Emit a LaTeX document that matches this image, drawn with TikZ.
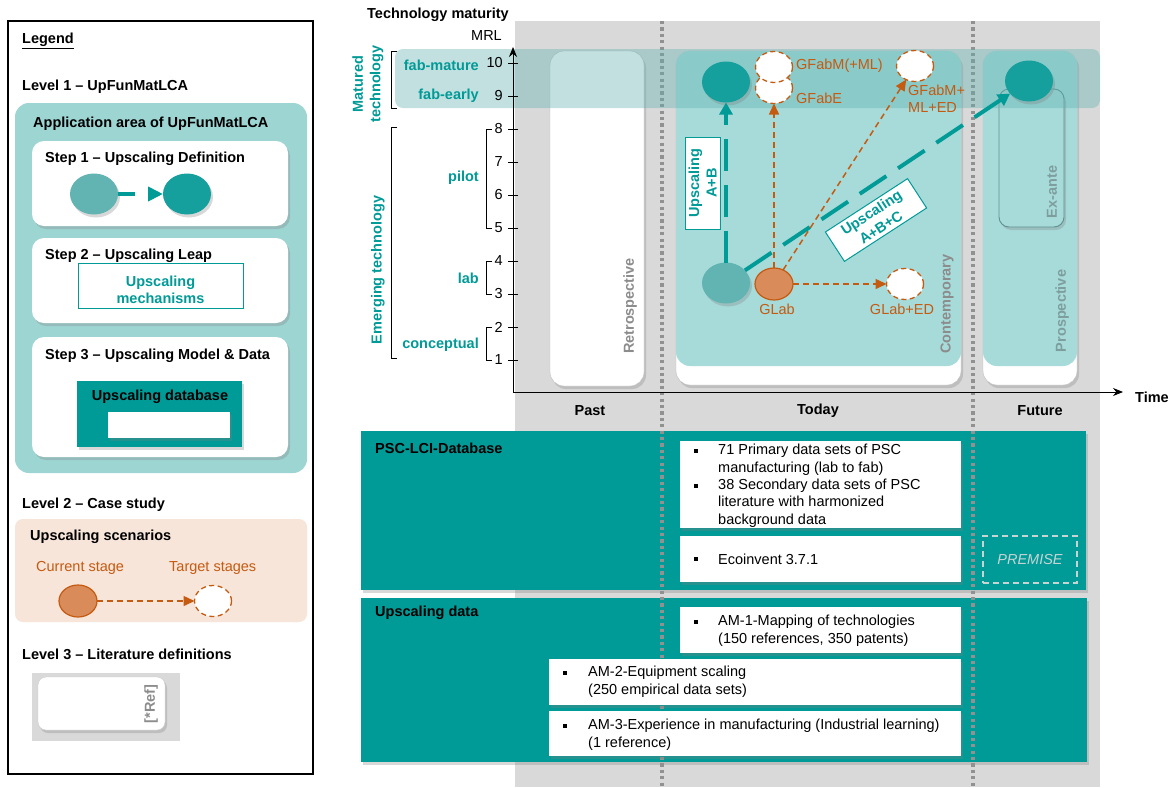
\documentclass[tikz,border=0pt]{standalone}
\usepackage{fontspec}
\setmainfont{Liberation Sans}
\usetikzlibrary{arrows.meta,shadows,shapes.geometric,fit}
\definecolor{tealD}{HTML}{009A97}
\definecolor{tealL}{HTML}{9DD5D3}
\definecolor{tealC}{HTML}{A6DBDA}
\definecolor{tealE}{HTML}{62B4B2}
\definecolor{tealS}{HTML}{15A09D}
\definecolor{orgT}{HTML}{C55A11}
\definecolor{orgF}{HTML}{D98B5A}
\definecolor{peach}{HTML}{F7E5D9}
\definecolor{bgG}{HTML}{D9D9D9}
\definecolor{dotG}{HTML}{919191}
\definecolor{rotG}{HTML}{8C8C8C}
\definecolor{rotT}{HTML}{7E9E9E}
\definecolor{exaB}{HTML}{5F8F8F}
\definecolor{bandC}{HTML}{5FAFAF}
\definecolor{premC}{HTML}{C8D4D4}
\tikzset{
 shd/.style={drop shadow={opacity=0.3,shadow xshift=2pt,shadow yshift=-3pt}},
 bx/.style={inner sep=0pt,outer sep=0pt},
 wbox/.style={bx,fill=white,rounded corners=12pt,shd},
 lbl/.style={inner sep=0pt,anchor=west},
 bld/.style={lbl,font=\bfseries},
 tealtxt/.style={text=tealD,font=\bfseries,inner sep=0pt},
 ell/.style={ellipse,inner sep=0pt,outer sep=0pt},
 matE/.style={ell,fill=tealS,minimum width=48pt,minimum height=41pt,shd},
 curE/.style={ell,fill=tealE,minimum width=48pt,minimum height=41pt,shd},
 orgE/.style={ell,fill=orgF,draw=orgT,line width=1.2pt,minimum width=38pt,minimum height=32pt},
 tgtE/.style={ell,fill=white,draw=orgT,line width=1.3pt,dash pattern=on 5pt off 3.5pt,minimum width=37pt,minimum height=31pt},
 oarr/.style={draw=orgT,line width=1.5pt,dash pattern=on 6pt off 4pt,-{Triangle[length=11pt,width=10pt]}},
 tarr/.style={draw=tealD,line width=4pt,dash pattern=on 32pt off 14pt,-{Triangle[length=12pt,width=13pt]}},
 dotl/.style={draw=dotG,line width=3.2pt,dash pattern=on 3.2pt off 3.2pt},
 rott/.style={rotate=90,font=\bfseries,inner sep=0pt},
 bul/.style={fill=black,minimum size=4.5pt,inner sep=0pt},
 brk/.style={draw=black,line width=0.8pt},
 otxt/.style={text=orgT,inner sep=0pt},
 upbox/.style={bx,fill=white,draw=tealD,line width=1pt,text=tealD,font=\bfseries,align=center},
}
\begin{document}
\fontsize{14.5pt}{17.5pt}\selectfont
\begin{tikzpicture}[x=1pt,y=-1pt]
\useasboundingbox (0,0) rectangle (1169,787);
\fill[white] (0,0) rectangle (1169,787);
% ---------------- legend
\draw[line width=1.3pt] (8,21) rectangle (313,774);
\node[bld] (lg) at (22,41) {\underline{Legend}};
\node[bld] (lv1) at (22,87) {Level 1 – UpFunMatLCA};
\node[bx,fill=tealL,rounded corners=14pt,fit={(15,103)(307,473)}] (app) {};
\node[bld] (appt) at (33,124) {Application area of UpFunMatLCA};
\node[wbox,fit={(32,141)(288,226)}] (s1) {};
\node[bld] (s1t) at (45,159) {Step 1 – Upscaling Definition};
\node[curE] (l1) at (94,194) {};
\node[matE] (l2) at (187,194) {};
\draw[tarr,dash pattern=on 17pt off 13pt,-{Triangle[length=15pt,width=14pt]}] (l1) -- (l2);
\node[wbox,fit={(32,238)(288,323)}] (s2) {};
\node[bld] (s2t) at (45,256) {Step 2 – Upscaling Leap};
\node[upbox,fit={(78,263)(243,308)}] (mech) {};
\node[tealtxt,align=center] (mecht) at (160.5,290) {Upscaling\\mechanisms};
\node[wbox,fit={(32,337)(288,457)}] (s3) {};
\node[bld] (s3t) at (45,356) {Step 3 – Upscaling Model \& Data};
\node[bx,fill=tealD,shd,fit={(77,381)(242,447)}] (db) {};
\node[font=\bfseries,inner sep=0pt] (dbt) at (160,397) {Upscaling database};
\node[bx,fill=white,shd,fit={(108,412)(230,438)}] (dbw) {};
\node[bld] (lv2) at (22,505) {Level 2 – Case study};
\node[bx,fill=peach,rounded corners=8pt,fit={(15,519)(307,622)}] (scen) {};
\node[bld] (scent) at (30,537) {Upscaling scenarios};
\node[otxt,anchor=west] (cst) at (36,568) {Current stage};
\node[otxt,anchor=west] (tst) at (169,568) {Target stages};
\node[orgE] (gc) at (78,601) {};
\node[tgtE] (gt) at (213,601) {};
\draw[oarr] (gc) -- (gt);
\node[bld] (lv3) at (22,654) {Level 3 – Literature definitions};
\node[bx,fill=bgG,fit={(32,673)(180,741)}] (refbg) {};
\node[wbox,rounded corners=8pt,draw=black!20,fit={(38,677)(165,730)}] (refb) {};
\node[rott,text=rotG] (reft) at (151,704) {[*Ref]};
% ---------------- chart background
\fill[bgG] (515,21) rectangle (1100,787);
\node[bx,fill=tealD,shd,fit={(361,431)(1086,590)}] (psc) {};
\node[bx,fill=tealD,shd,fit={(361,598)(1087,762)}] (upd) {};
\draw[dotl] (662,21) -- (662,787);
\draw[dotl] (973,21) -- (973,787);
% bottom boxes
\node[bld] (psct) at (375,448) {PSC-LCI-Database};
\node[bx,fill=white,shd,fit={(680,441)(961,528)}] (b1) {};
\node[bx,fill=white,shd,fit={(680,536)(961,582)}] (b2) {};
\node[bx,draw=premC,line width=1.2pt,dash pattern=on 6pt off 4pt,fit={(983,536)(1077,583)}] (prem) {};
\node[font=\itshape,text=premC,inner sep=0pt] (premt) at (prem) {PREMISE};
\node[bul] (bu1) at (696,451) {};
\node[lbl,align=left] (b1a) at (718,459.5) {71 Primary data sets of PSC\\manufacturing (lab to fab)};
\node[bul] (bu2) at (696,486) {};
\node[lbl,align=left] (b1b) at (718,503) {38 Secondary data sets of PSC\\literature with harmonized\\background data};
\node[bul] (bu3) at (696,559) {};
\node[lbl] (b2a) at (718,559) {Ecoinvent 3.7.1};
\node[bld] (updt) at (375,613) {Upscaling data};
\node[bx,fill=white,shd,fit={(680,607)(961,653)}] (am1) {};
\node[bx,fill=white,shd,fit={(549,659)(961,705)}] (am2) {};
\node[bx,fill=white,shd,fit={(549,711)(961,756)}] (am3) {};
\node[bul] (bu4) at (696,622) {};
\node[lbl,align=left] (am1t) at (718,630.5) {AM-1-Mapping of technologies\\(150 references, 350 patents)};
\node[bul] (bu5) at (565,673) {};
\node[lbl,align=left] (am2t) at (588,681.5) {AM-2-Equipment scaling\\(250 empirical data sets)};
\node[bul] (bu6) at (565,726) {};
\node[lbl,align=left] (am3t) at (588,734.5) {AM-3-Experience in manufacturing (Industrial learning)\\(1 reference)};
% ---------------- time columns
\node[bx,fill=white,draw=black!25,rounded corners=14pt,shd,fit={(550,51)(644,386)}] (retro) {};
\node[bx,fill=white,draw=black!25,rounded corners=14pt,shd,fit={(676,51)(961,385)}] (cont) {};
\node[bx,fill=tealC,rounded corners=14pt,fit={(676,51)(961,366)}] (contov) {};
\node[bx,fill=white,draw=black!25,rounded corners=14pt,shd,fit={(983,51)(1077,385)}] (fu) {};
\node[bx,fill=tealC,rounded corners=14pt,fit={(983,51)(1077,366)}] (fuov) {};
\node[bx,fill=tealC,draw=exaB,line width=0.9pt,rounded corners=10pt,shd,fit={(999,89)(1064,227)}] (exa) {};
\node[rott,text=rotG] (retrot) at (630,306) {Retrospective};
\node[rott,text=rotG] (contt) at (947,304) {Contemporary};
\node[rott,text=rotT] (exat) at (1052,192) {Ex-ante};
\node[rott,text=rotT] (prost) at (1062,311) {Prospective};
\node[font=\bfseries,inner sep=0pt] (past) at (590,411) {Past};
\node[font=\bfseries,inner sep=0pt] (today) at (818,411) {Today};
\node[font=\bfseries,inner sep=0pt] (futt) at (1040,411) {Future};
% matured band
\node[bx,fill=bandC,fill opacity=0.38,rounded corners=8pt,fit={(395,49)(1100,108)}] (band) {};
% ---------------- axes
\coordinate (O) at (513,392);
\coordinate (ytop) at (513,47);
\coordinate (xend) at (1123,392);
\draw[line width=0.9pt,-{Stealth[length=10pt,width=8pt]}] (O) -- (ytop);
\draw[line width=0.9pt,-{Stealth[length=10pt,width=8pt]}] (O) -- (xend);
\node[bld] (time) at (1135,397) {Time};
\foreach \n in {1,...,10}{
  \draw[line width=0.8pt] (508,{393-33*\n}) -- (518,{393-33*\n});
  \node[anchor=east,inner sep=0pt] at (503,{393-33*\n}) {\n};
}
\node[anchor=east,inner sep=0pt] (mrl) at (502,36) {MRL};
\node[bld] (techm) at (367,15) {Technology maturity};
\draw[brk] (492,129) -- (486,129) -- (486,228) -- (492,228);
\draw[brk] (492,261) -- (486,261) -- (486,294) -- (492,294);
\draw[brk] (492,327) -- (486,327) -- (486,360) -- (492,360);
\draw[brk] (397,51) -- (391,51) -- (391,108) -- (397,108);
\draw[brk] (397,127) -- (391,127) -- (391,358) -- (397,358);
\node[tealtxt,anchor=east] (fm) at (479,65) {fab-mature};
\node[tealtxt,anchor=east] (fe) at (479,96) {fab-early};
\node[tealtxt,anchor=east] (pil) at (479,178) {pilot};
\node[tealtxt,anchor=east] (lab) at (479,278) {lab};
\node[tealtxt,anchor=east] (con) at (479,345) {conceptual};
\node[tealtxt,rotate=90,align=center] (matt) at (368,84) {Matured\\technology};
\node[tealtxt,rotate=90] (emt) at (378,270) {Emerging technology};
% ---------------- scenario content
\node[matE] (mat) at (726,82) {};
\node[curE] (cur) at (726,283) {};
\node[matE] (fut) at (1029,81) {};
\draw[tarr] (cur) -- (mat);
\draw[tarr] (cur) -- (fut);
\node[upbox,rotate=90,minimum width=92pt,minimum height=35pt] (ab) at (702.5,183) {Upscaling\\A+B};
\node[upbox,rotate=33,minimum width=98pt,minimum height=35pt] (abc) at (876,220) {Upscaling\\A+B+C};
\node[tgtE] (gfe) at (774,88) {};
\node[tgtE] (gfm) at (774,67) {};
\node[tgtE] (gml) at (915,66) {};
\node[tgtE] (gle) at (905,284) {};
\node[orgE] (glab) at (774,284) {};
\draw[oarr] (glab) -- (gfe);
\draw[oarr] (glab) -- (gml);
\draw[oarr] (glab) -- (gle);
\node[otxt,anchor=west] (gfmt) at (796,66) {GFabM(+ML)};
\node[otxt,anchor=west] (gfet) at (796,98) {GFabE};
\node[otxt,anchor=west,align=left] (gmlt) at (908,98.5) {GFabM+\\ML+ED};
\node[otxt] (glabt) at (777,309) {GLab};
\node[otxt] (glet) at (902,309) {GLab+ED};
\end{tikzpicture}
\end{document}
